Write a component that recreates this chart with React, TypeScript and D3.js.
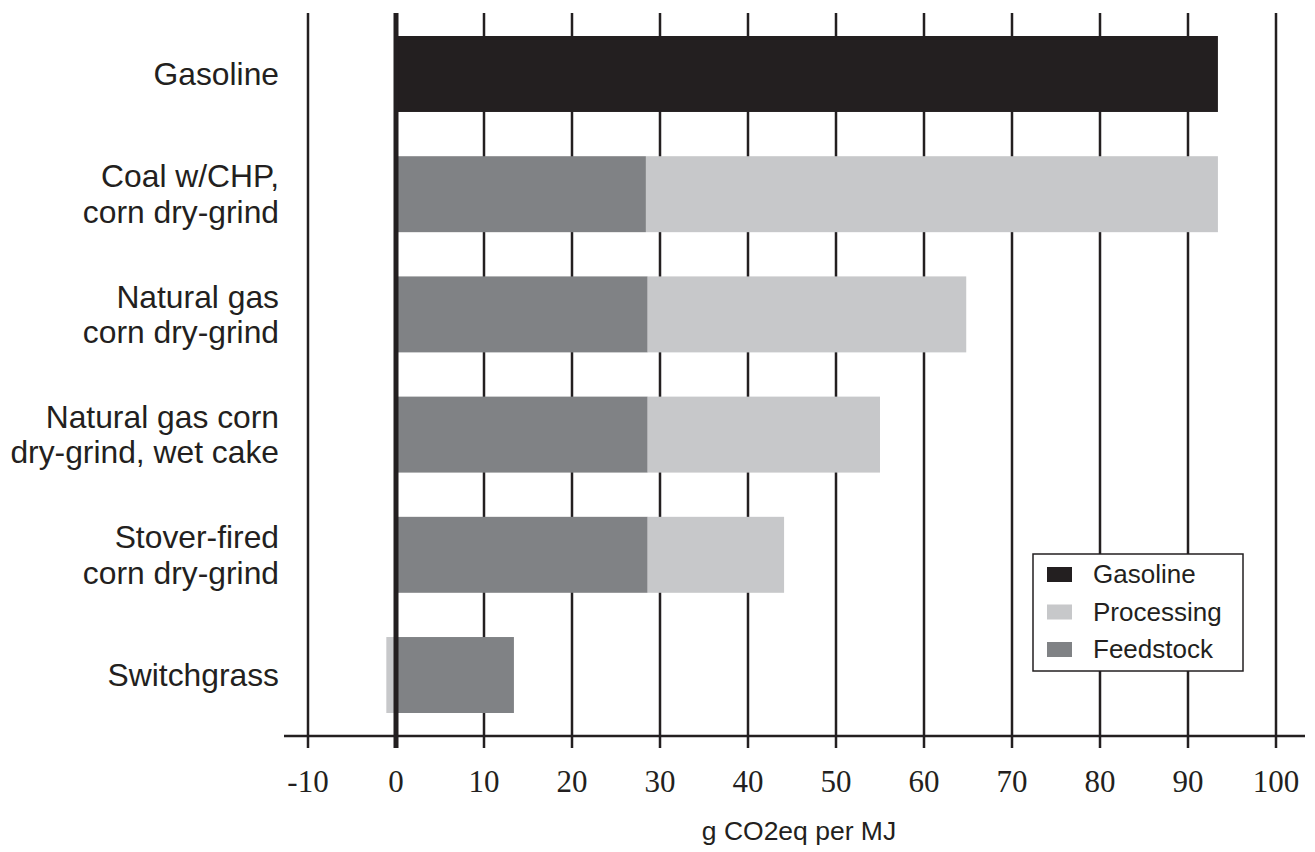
import React from "react";
import * as d3 from "d3";

const categories = [
  "Gasoline",
  "Coal w/CHP,\ncorn dry-grind",
  "Natural gas\ncorn dry-grind",
  "Natural gas corn\ndry-grind, wet cake",
  "Stover-fired\ncorn dry-grind",
  "Switchgrass",
];
const gasoline = [93.4, 0, 0, 0, 0, 0];
const feedstock = [0, 28.4, 28.6, 28.6, 28.6, 13.4];
const processing = [0, 65.0, 36.2, 26.4, 15.5, -1.1];
const xTicks = [-10, 0, 10, 20, 30, 40, 50, 60, 70, 80, 90, 100];
const legendItems = ["Gasoline", "Processing", "Feedstock"];

const COLORS: Record<string, string> = {
  Gasoline: "#231f20",
  Processing: "#c7c8ca",
  Feedstock: "#808285",
};
const INK = "#231f20";
const SANS = "'Liberation Sans', Arial, Helvetica, sans-serif";
const SERIF = "'Liberation Serif', 'Times New Roman', serif";

export default function App() {
  const W = 1315;
  const H = 852;
  const x = d3.scaleLinear().domain([-10, 100]).range([308, 1276]);
  const y = d3
    .scaleBand<string>()
    .domain(categories)
    .range([36, 713])
    .paddingInner(0.368)
    .paddingOuter(0);
  const bw = y.bandwidth();
  const axisY = 736;
  const gridTop = 13;

  const rects: { key: string; x0: number; x1: number; cat: string; color: string }[] = [];
  categories.forEach((c, i) => {
    if (gasoline[i] !== 0)
      rects.push({ key: "g" + i, x0: 0, x1: gasoline[i], cat: c, color: COLORS.Gasoline });
    if (feedstock[i] !== 0)
      rects.push({ key: "f" + i, x0: 0, x1: feedstock[i], cat: c, color: COLORS.Feedstock });
    if (processing[i] > 0)
      rects.push({
        key: "p" + i,
        x0: feedstock[i],
        x1: feedstock[i] + processing[i],
        cat: c,
        color: COLORS.Processing,
      });
    else if (processing[i] < 0)
      rects.push({ key: "p" + i, x0: processing[i], x1: 0, cat: c, color: COLORS.Processing });
  });

  const legX = 1033;
  const legY = 554;

  return (
    <svg
      width={W}
      height={H}
      style={{ position: "absolute", left: 0, top: 0, background: "#fff" }}
    >
      {/* grid lines */}
      {xTicks
        .filter((t) => t !== 0)
        .map((t) => (
          <line
            key={"grid" + t}
            x1={x(t)}
            x2={x(t)}
            y1={gridTop}
            y2={axisY + 12}
            stroke={INK}
            strokeWidth={2.5}
          />
        ))}
      {/* bars */}
      {rects.map((r) => (
        <rect
          key={r.key}
          x={x(Math.min(r.x0, r.x1))}
          width={Math.abs(x(r.x1) - x(r.x0))}
          y={y(r.cat)}
          height={bw}
          fill={r.color}
        />
      ))}
      {/* zero line */}
      <line x1={x(0)} x2={x(0)} y1={gridTop} y2={axisY + 12} stroke={INK} strokeWidth={5} />
      {/* x axis line */}
      <line x1={284} x2={1305} y1={axisY} y2={axisY} stroke={INK} strokeWidth={2.5} />
      {/* tick labels */}
      {xTicks.map((t) => (
        <text
          key={"tl" + t}
          x={x(t)}
          y={792}
          textAnchor="middle"
          fontFamily={SERIF}
          fontSize={31}
          fill={INK}
        >
          {t}
        </text>
      ))}
      {/* axis title */}
      <text
        x={799}
        y={840}
        textAnchor="middle"
        fontFamily={SANS}
        fontSize={26.5}
        fill={INK}
      >
        g CO2eq per MJ
      </text>
      {/* category labels */}
      {categories.map((c) => {
        const lines = c.split("\n");
        const cy = (y(c) as number) + bw / 2;
        const lh = 35.5;
        const base = cy + 11 - ((lines.length - 1) * lh) / 2;
        return (
          <text
            key={"cl" + c}
            textAnchor="end"
            fontFamily={SANS}
            fontSize={31.8}
            fill={INK}
          >
            {lines.map((l, j) => (
              <tspan key={j} x={279} y={base + j * lh}>
                {l}
              </tspan>
            ))}
          </text>
        );
      })}
      {/* legend */}
      <rect
        x={legX}
        y={legY}
        width={210}
        height={117}
        fill="#fff"
        stroke={INK}
        strokeWidth={1.5}
      />
      {legendItems.map((name, i) => (
        <g key={"leg" + name}>
          <rect
            x={1047}
            y={567 + i * 37.5}
            width={25}
            height={15}
            fill={COLORS[name]}
          />
          <text
            x={1093}
            y={583 + i * 37.5}
            fontFamily={SANS}
            fontSize={26}
            fill={INK}
          >
            {name}
          </text>
        </g>
      ))}
    </svg>
  );
}
